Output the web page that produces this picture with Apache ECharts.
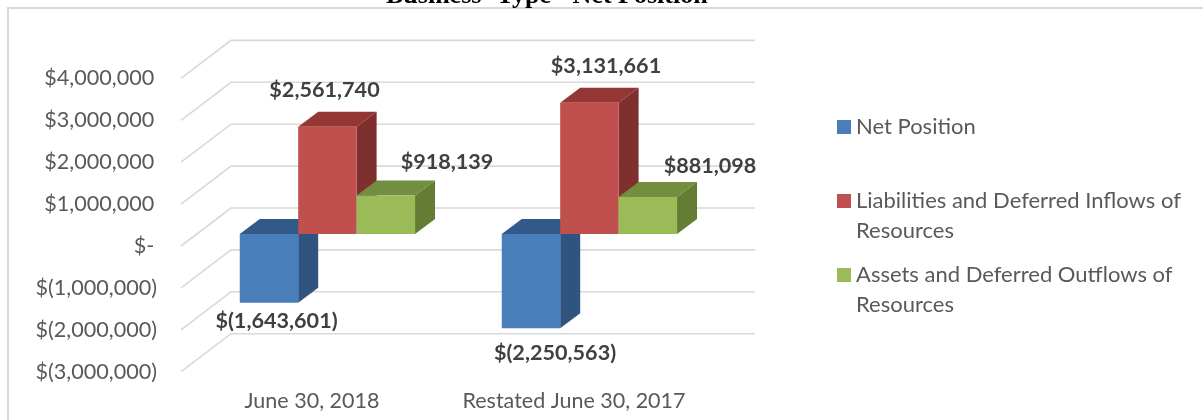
<!DOCTYPE html>
<html>
<head>
<meta charset="utf-8">
<style>html,body{margin:0;padding:0;background:#fff}#chart{width:1203px;height:420px}</style>
<script src="https://cdn.jsdelivr.net/npm/echarts@6/dist/echarts.min.js"></script>
</head>
<body>
<div id="chart"></div>
<script>
// Fund figures, in dollars
const categories = ['June 30, 2018', 'Restated June 30, 2017'];
const seriesNames = ['Net Position', 'Liabilities and Deferred Inflows of Resources', 'Assets and Deferred Outflows of Resources'];
const netPosition = [-1643601, -2250563];
const liabilities = [2561740, 3131661];
const assets = [918139, 881098];
const axisTicks = [-3000000, -2000000, -1000000, 0, 1000000, 2000000, 3000000, 4000000];

// Hand-placed value label offsets from each bar's value point
const labelOffsets = [
  [[-35.5, 5.8], [-19, 12.7]],
  [[12.5, -48.7], [32, -48.8]],
  [[135, -45.5], [136, -43]]
];

// Projection of the pseudo-3D box
const FLOOR_DX = 50, FLOOR_DY = -38;   // full depth of the chart floor
const BAR_DX = 20, BAR_DY = -15;       // depth of one bar
const PLANE_DX = 15.4, PLANE_DY = -12; // where the bars' front faces sit
const BAR_BAND = 0.223;                // bar width as a share of a category band

const faces = [
  { front: '#4a7ebb', top: '#32598a', side: '#2f5480' },
  { front: '#c0504d', top: '#943634', side: '#7f302e' },
  { front: '#9bbb59', top: '#738e3f', side: '#647c34' }
];

const money = n => n.toString().replace(/\B(?=(\d{3})+$)/g, ',');
const accounting = v => v < 0 ? '$(' + money(-v) + ')' : '$' + money(v);
const tickLabel = v => v === 0 ? '$-\u2009' : v < 0 ? accounting(v) : accounting(v) + '\u2009';

function wallItem(params, api) {
  const cs = params.coordSys;
  const y = api.coord([0, api.value(0)])[1];
  return {
    type: 'polyline',
    shape: { points: [[cs.x, y], [cs.x + FLOOR_DX, y + FLOOR_DY], [cs.x + cs.width + FLOOR_DX, y + FLOOR_DY]] },
    style: { fill: 'none', stroke: '#d9d9d9', lineWidth: 1.6 },
    silent: true
  };
}

function barItem(slot) {
  return function (params, api) {
    const cat = api.value(0), val = api.value(1);
    const pt = api.coord([cat, val]);
    const zero = api.coord([cat, 0]);
    const w = api.size([1, 0])[0] * BAR_BAND;
    const x0 = pt[0] + PLANE_DX + (slot - 1.5) * w;
    const x1 = x0 + w;
    const yTop = Math.min(pt[1], zero[1]) + PLANE_DY;
    const yBot = Math.max(pt[1], zero[1]) + PLANE_DY;
    const c = faces[slot];
    const off = labelOffsets[slot][cat];
    return {
      type: 'group',
      children: [
        { type: 'polygon', shape: { points: [[x0, yTop], [x0 + BAR_DX, yTop + BAR_DY], [x1 + BAR_DX, yTop + BAR_DY], [x1, yTop]] }, style: { fill: c.top } },
        { type: 'polygon', shape: { points: [[x1, yTop], [x1 + BAR_DX, yTop + BAR_DY], [x1 + BAR_DX, yBot + BAR_DY], [x1, yBot]] }, style: { fill: c.side } },
        { type: 'rect', shape: { x: x0, y: yTop, width: w, height: yBot - yTop }, style: { fill: c.front } },
        { type: 'text', z2: 50, style: { x: pt[0] + off[0], y: pt[1] + off[1], text: accounting(val), align: 'center', verticalAlign: 'middle', font: 'bold 21.6px Lato', fill: '#404040' } }
      ]
    };
  };
}

const asRows = values => values.map((v, i) => [i, v]);

const option = {
  animation: false,
  backgroundColor: '#fff',
  textStyle: { fontFamily: 'Lato' },
  title: {
    text: 'Business -Type - Net Position',
    left: 386, top: -17, padding: 0,
    textStyle: { fontFamily: 'Liberation Serif', fontWeight: 'bold', fontSize: 26, color: '#000' }
  },
  graphic: [{
    type: 'polyline', silent: true, z: -1,
    shape: { points: [[8, 420], [8, 8], [1203, 8]] },
    style: { fill: 'none', stroke: '#d9d9d9', lineWidth: 2 }
  }],
  grid: { left: 181, top: 78.4, width: 524, height: 293.3 },
  xAxis: {
    type: 'category', data: categories,
    axisLine: { show: false }, axisTick: { show: false }, splitLine: { show: false },
    axisLabel: { interval: 0, fontFamily: 'Lato', fontSize: 21.5, color: '#595959', margin: 18 }
  },
  yAxis: {
    type: 'value', min: -3000000, max: 4000000, interval: 1000000,
    axisLine: { show: false }, axisTick: { show: false }, splitLine: { show: false },
    axisLabel: { fontFamily: 'Lato', fontSize: 21.6, color: '#595959', margin: 24, formatter: tickLabel }
  },
  legend: {
    orient: 'vertical', left: 837, top: 82, padding: 0, itemGap: -16,
    itemWidth: 14, itemHeight: 14, icon: 'rect',
    data: seriesNames,
    // A leading blank line keeps each swatch level with its entry's first text line
    formatter: n => '\n' + (n.includes(' of ') ? n.replace(' of ', ' of\n') : n + '\n '),
    textStyle: { fontFamily: 'Lato', fontSize: 22, lineHeight: 30, color: '#595959' }
  },
  tooltip: { show: false },
  series: [
    { type: 'custom', name: 'walls', renderItem: wallItem, data: axisTicks.map(t => [t]), encode: { y: 0 }, silent: true, z: 1, clip: false },
    { type: 'custom', name: seriesNames[0], renderItem: barItem(0), data: asRows(netPosition), encode: { x: 0, y: 1 }, itemStyle: { color: faces[0].front }, z: 2, clip: false },
    { type: 'custom', name: seriesNames[1], renderItem: barItem(1), data: asRows(liabilities), encode: { x: 0, y: 1 }, itemStyle: { color: faces[1].front }, z: 3, clip: false },
    { type: 'custom', name: seriesNames[2], renderItem: barItem(2), data: asRows(assets), encode: { x: 0, y: 1 }, itemStyle: { color: faces[2].front }, z: 4, clip: false }
  ]
};

echarts.init(document.getElementById('chart'), null, { renderer: 'canvas' }).setOption(option);
</script>
</body>
</html>
